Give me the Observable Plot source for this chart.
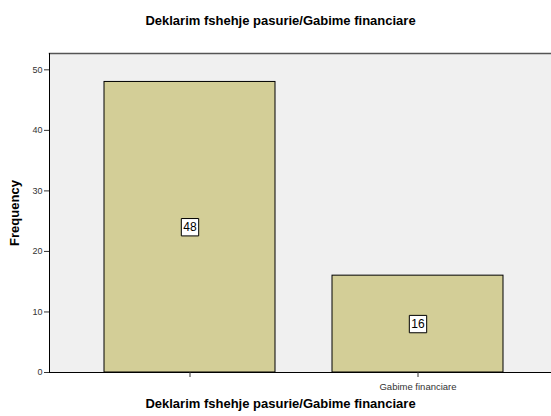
<!DOCTYPE html>
<html><head><meta charset="utf-8">
<script src="https://cdn.jsdelivr.net/npm/d3@7"></script>
<script src="https://cdn.jsdelivr.net/npm/@observablehq/plot@0.6"></script>
<style>body{margin:0;background:#fff;font-family:"Liberation Sans",Arial,sans-serif}</style>
</head><body><div id="chart"></div>
<script>
const categories = ["", "Gabime financiare"];
const frequencies = [48, 16];
const yTicks = [0, 10, 20, 30, 40, 50];
const chartTitle = "Deklarim fshehje pasurie/Gabime financiare";
const xTitle = "Deklarim fshehje pasurie/Gabime financiare";
const yTitle = "Frequency";

const data = categories.map((c, i) => ({category: c, value: frequencies[i]}));

const chart = Plot.plot({
  width: 551, height: 416,
  marginTop: 53, marginBottom: 44, marginLeft: 49, marginRight: 0,
  style: {fontFamily: "Liberation Sans, Arial, sans-serif", background: "#fff", overflow: "visible"},
  x: {domain: categories, range: [49, 557], paddingInner: 0.25, paddingOuter: 0.236, label: null},
  y: {domain: [0, 52.7], label: null},
  marks: [
    Plot.frame({fill: "#f0f0f0", stroke: "none"}),
    Plot.barY(data, {x: "category", y: "value", fill: "#d3ce97", stroke: "#000", strokeWidth: 1}),
    Plot.frame({anchor: "top", stroke: "#555", strokeWidth: 1.5}),
    Plot.frame({anchor: "left", stroke: "#000", strokeWidth: 1}),
    Plot.ruleY([0], {stroke: "#000"}),
    Plot.axisY({ticks: yTicks, tickSize: 5, tickPadding: 2, fontSize: 9, color: "#333", label: null}),
    Plot.axisX({tickSize: 5, tickPadding: 6, fontSize: 9.5, color: "#333", label: null}),
    Plot.dot(data, {x: "category", y: d => d.value / 2, symbol: "square", r: 9.8, fill: "#fff", stroke: "#000", strokeWidth: 1}),
    Plot.text(data, {x: "category", y: d => d.value / 2, text: d => String(d.value), fontSize: 12, fill: "#000"}),
    Plot.text([chartTitle], {frameAnchor: "top", dx: -20, dy: -38, text: d => d, fontSize: 13, fontWeight: "bold", fill: "#000"}),
    Plot.text([xTitle], {frameAnchor: "bottom", dx: -20, dy: 35, text: d => d, fontSize: 13, fontWeight: "bold", fill: "#000"}),
    Plot.text([yTitle], {frameAnchor: "left", textAnchor: "middle", dx: -35, rotate: -90, text: d => d, fontSize: 13, fontWeight: "bold", fill: "#000"})
  ]
});
document.getElementById("chart").appendChild(chart);
</script></body></html>
